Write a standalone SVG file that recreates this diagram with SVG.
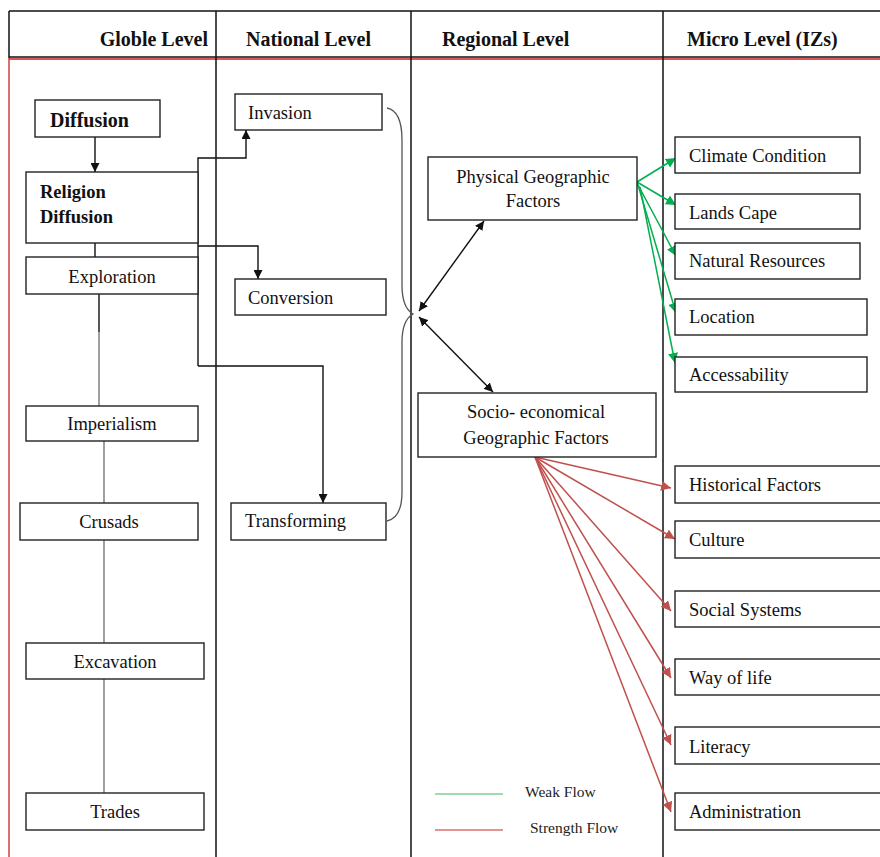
<svg xmlns="http://www.w3.org/2000/svg" width="880" height="857" viewBox="0 0 880 857">
<style>
.box{fill:#fff;stroke:#222;stroke-width:1.4}
.t{font-family:"Liberation Serif","Times New Roman",serif;font-size:18.5px;fill:#111}
.tb{font-family:"Liberation Serif","Times New Roman",serif;font-weight:bold;fill:#111}
.lg{font-family:"Liberation Serif","Times New Roman",serif;font-size:15.5px;fill:#222}
.c{text-anchor:middle}
.frame{stroke:#111;stroke-width:1.5;fill:none}
.blk{stroke:#111;stroke-width:1.4;fill:none}
.gry{stroke:#888;stroke-width:1.6;fill:none}
.brace{stroke:#555;stroke-width:1.3;fill:none}
.grn{stroke:#00b050;stroke-width:1.5;fill:none}
.red{stroke:#c0504d;stroke-width:1.5;fill:none}
</style>
<defs>
<marker id="ab" viewBox="0 0 10 10" refX="10" refY="5" markerWidth="9" markerHeight="9" markerUnits="userSpaceOnUse" orient="auto-start-reverse"><path d="M0,0L10,5L0,10z" fill="#111"/></marker>
<marker id="ag" viewBox="0 0 10 10" refX="10" refY="5" markerWidth="10" markerHeight="10" markerUnits="userSpaceOnUse" orient="auto"><path d="M0,0L10,5L0,10z" fill="#00b050"/></marker>
<marker id="ar" viewBox="0 0 10 10" refX="10" refY="5" markerWidth="10" markerHeight="10" markerUnits="userSpaceOnUse" orient="auto"><path d="M0,0L10,5L0,10z" fill="#c0504d"/></marker>
</defs>
<rect width="880" height="857" fill="#fff"/>
<g id="frame">
<line class="frame" x1="9" y1="11" x2="880" y2="11"/>
<line class="frame" x1="9" y1="57" x2="880" y2="57"/>
<line x1="9" y1="59" x2="880" y2="59" stroke="#d02020" stroke-width="1.5"/>
<line class="frame" x1="9" y1="11" x2="9" y2="58"/>
<line x1="9" y1="58" x2="9" y2="857" stroke="#d04040" stroke-width="1.5"/>
<line class="frame" x1="216" y1="11" x2="216" y2="857"/>
<line class="frame" x1="411" y1="11" x2="411" y2="857"/>
<line class="frame" x1="663" y1="11" x2="663" y2="857"/>
<text class="tb" x="208" y="46" font-size="20" text-anchor="end">Globle Level</text>
<text class="tb" x="246" y="46" font-size="20">National Level</text>
<text class="tb" x="442" y="46" font-size="20">Regional Level</text>
<text class="tb" x="687" y="46" font-size="20">Micro Level (IZs)</text>
</g>
<g id="connectors">
<line class="blk" x1="95" y1="137" x2="95" y2="172" marker-end="url(#ab)"/>
<line class="blk" x1="95" y1="243" x2="95" y2="257"/>
<line class="blk" x1="99" y1="294" x2="99" y2="332"/>
<line class="gry" x1="99" y1="332" x2="99" y2="406"/>
<line class="gry" x1="104" y1="441" x2="104" y2="503"/>
<line class="gry" x1="104" y1="540" x2="104" y2="643"/>
<line class="gry" x1="104" y1="679" x2="104" y2="793"/>
<polyline class="blk" points="198,366 198,158 246,158 246,130" marker-end="url(#ab)"/>
<polyline class="blk" points="198,246 258,246 258,279" marker-end="url(#ab)"/>
<polyline class="blk" points="198,366 323,366 323,503" marker-end="url(#ab)"/>
<path class="brace" d="M387,108 C397,110 402,120 402,140 L402,285 C402,300 406,310 413,314 C406,318 402,326 402,342 L402,492 C402,510 396,519 387,521"/>
<line class="blk" x1="419" y1="311" x2="484" y2="221" marker-start="url(#ab)" marker-end="url(#ab)"/>
<line class="blk" x1="419" y1="317" x2="493" y2="392" marker-start="url(#ab)" marker-end="url(#ab)"/>
<line class="grn" x1="637" y1="182" x2="676" y2="158" marker-end="url(#ag)"/>
<line class="grn" x1="637" y1="182" x2="676" y2="205" marker-end="url(#ag)"/>
<line class="grn" x1="637" y1="183" x2="676" y2="256" marker-end="url(#ag)"/>
<line class="grn" x1="638" y1="185" x2="676" y2="313" marker-end="url(#ag)"/>
<line class="grn" x1="640" y1="187" x2="675" y2="363" marker-end="url(#ag)"/>
<line class="red" x1="535" y1="457" x2="671" y2="488" marker-end="url(#ar)"/>
<line class="red" x1="535" y1="457" x2="675" y2="539" marker-end="url(#ar)"/>
<line class="red" x1="535" y1="457" x2="671" y2="611" marker-end="url(#ar)"/>
<line class="red" x1="535" y1="457" x2="671" y2="678" marker-end="url(#ar)"/>
<line class="red" x1="535" y1="457" x2="671" y2="745" marker-end="url(#ar)"/>
<line class="red" x1="535" y1="457" x2="671" y2="812" marker-end="url(#ar)"/>
</g>
<g id="n-diffusion"><rect class="box" x="35" y="100" width="125" height="37"/><text class="tb" x="50" y="127" font-size="20">Diffusion</text></g>
<g id="n-religion"><rect class="box" x="26" y="172" width="172" height="71"/><text class="tb" x="40" y="198" font-size="18.5">Religion</text><text class="tb" x="40" y="223" font-size="18.5">Diffusion</text></g>
<g id="n-exploration"><rect class="box" x="26" y="257" width="172" height="37"/><text class="t c" x="112" y="283">Exploration</text></g>
<g id="n-imperialism"><rect class="box" x="26" y="406" width="172" height="35"/><text class="t c" x="112" y="430">Imperialism</text></g>
<g id="n-crusads"><rect class="box" x="20" y="503" width="178" height="37"/><text class="t c" x="109" y="528">Crusads</text></g>
<g id="n-excavation"><rect class="box" x="26" y="643" width="178" height="36"/><text class="t c" x="115" y="668">Excavation</text></g>
<g id="n-trades"><rect class="box" x="26" y="793" width="178" height="37"/><text class="t c" x="115" y="818">Trades</text></g>
<g id="n-invasion"><rect class="box" x="235" y="94" width="147" height="36"/><text class="t" x="248" y="119">Invasion</text></g>
<g id="n-conversion"><rect class="box" x="235" y="279" width="151" height="36"/><text class="t" x="248" y="304">Conversion</text></g>
<g id="n-transforming"><rect class="box" x="231" y="503" width="155" height="37"/><text class="t" x="245" y="527">Transforming</text></g>
<g id="n-physical"><rect class="box" x="428" y="157" width="209" height="63"/><text class="t c" x="533" y="183">Physical Geographic</text><text class="t c" x="533" y="207">Factors</text></g>
<g id="n-socio"><rect class="box" x="418" y="393" width="238" height="64"/><text class="t c" x="536" y="418">Socio- economical</text><text class="t c" x="536" y="444">Geographic Factors</text></g>
<g id="n-climate"><rect class="box" x="675" y="137" width="185" height="36"/><text class="t" x="689" y="162">Climate Condition</text></g>
<g id="n-landscape"><rect class="box" x="675" y="194" width="185" height="35"/><text class="t" x="689" y="219">Lands Cape</text></g>
<g id="n-natural"><rect class="box" x="675" y="243" width="185" height="36"/><text class="t" x="689" y="267">Natural Resources</text></g>
<g id="n-location"><rect class="box" x="675" y="299" width="192" height="36"/><text class="t" x="689" y="323">Location</text></g>
<g id="n-access"><rect class="box" x="675" y="357" width="192" height="35"/><text class="t" x="689" y="381">Accessability</text></g>
<g id="n-historical"><rect class="box" x="675" y="466" width="210" height="37"/><text class="t" x="689" y="491">Historical Factors</text></g>
<g id="n-culture"><rect class="box" x="675" y="521" width="210" height="37"/><text class="t" x="689" y="546">Culture</text></g>
<g id="n-social"><rect class="box" x="675" y="591" width="210" height="36"/><text class="t" x="689" y="616">Social Systems</text></g>
<g id="n-way"><rect class="box" x="675" y="659" width="210" height="36"/><text class="t" x="689" y="684">Way of life</text></g>
<g id="n-literacy"><rect class="box" x="675" y="727" width="210" height="37"/><text class="t" x="689" y="753">Literacy</text></g>
<g id="n-admin"><rect class="box" x="675" y="793" width="210" height="37"/><text class="t" x="689" y="818">Administration</text></g>
<g id="legend">
<line x1="435" y1="794" x2="503" y2="794" stroke="#a3d9b1" stroke-width="2"/>
<line x1="435" y1="830" x2="503" y2="830" stroke="#d9706e" stroke-width="1.6"/>
<text class="lg" x="525" y="797">Weak Flow</text>
<text class="lg" x="530" y="833">Strength Flow</text>
</g>
</svg>
